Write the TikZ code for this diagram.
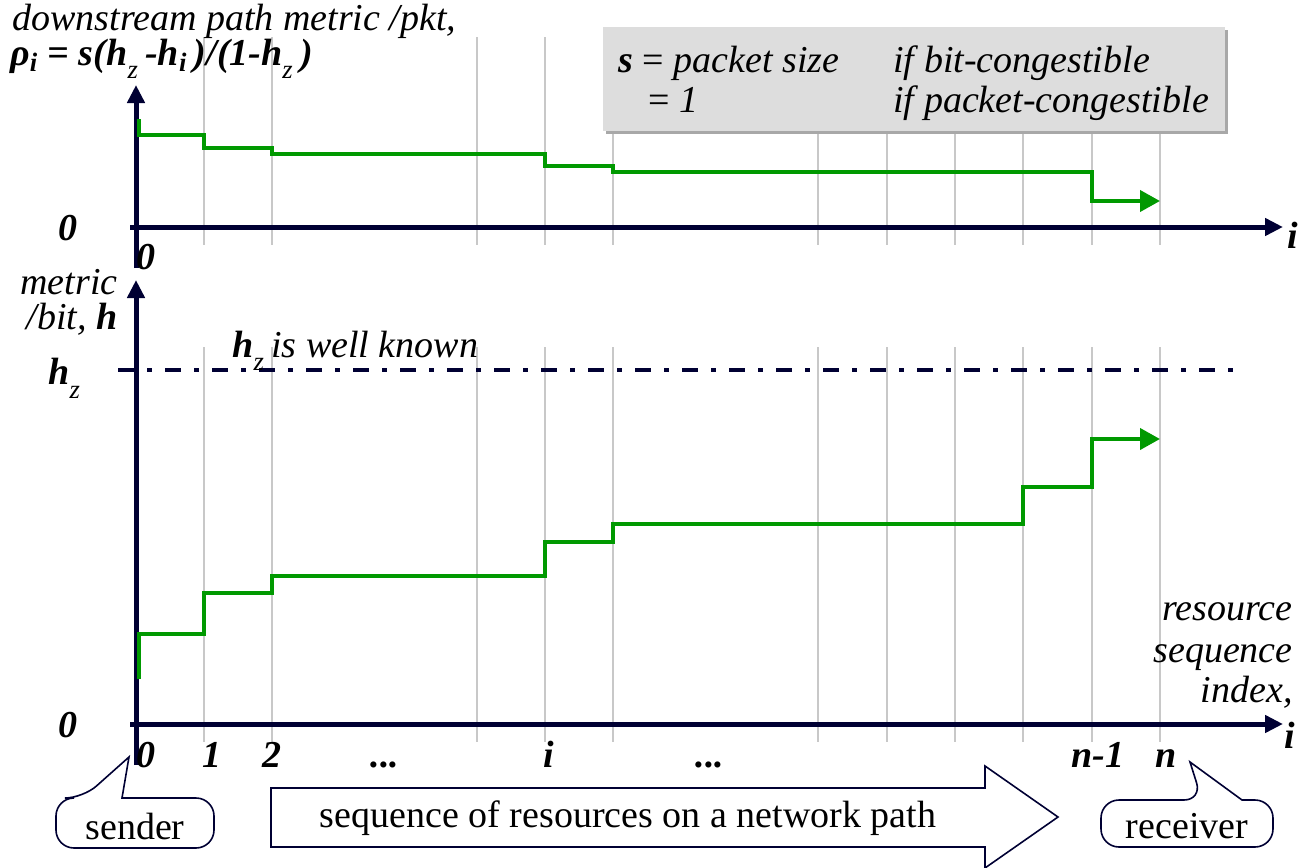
\documentclass[tikz,border=0pt]{standalone}
\usepackage{fontspec}
\setmainfont{Liberation Serif}
\usetikzlibrary{arrows.meta}

\definecolor{axisblue}{HTML}{000033}
\definecolor{stepgreen}{HTML}{009900}
\definecolor{gridgray}{HTML}{C8C8C8}
\definecolor{boxgray}{HTML}{DDDDDD}
\definecolor{shadowgray}{HTML}{A8A8A8}

\newcommand\lowsub[1]{\raisebox{-0.5ex}{\textsubscript{\mdseries#1}}\,}

\tikzset{
  axis/.style={line width=2.5pt, axisblue, -{Triangle[length=9pt,width=8.5pt]}},
  metric/.style={line width=2pt, stepgreen, -{Triangle[length=10pt,width=10.5pt]}},
  tickline/.style={gridgray, line width=0.7pt},
  lbl/.style={font=\fontsize{19}{22}\selectfont\itshape, inner sep=0pt},
  blbl/.style={font=\fontsize{19}{22}\selectfont\bfseries\itshape, inner sep=0pt},
  plain/.style={font=\fontsize{19}{22}\selectfont, inner sep=0pt},
  bubble/.style={draw=axisblue, line width=0.8pt, fill=white},
}

\begin{document}
\begin{tikzpicture}[x=0.5pt, y=-0.5pt]
\useasboundingbox (0,0) rectangle (1308,868);

% grid lines for the resources
\foreach \gx in {204,272,477,545,613,818,887,955,1023,1092,1160} {
  \draw[tickline] (\gx,37) -- (\gx,245);
  \draw[tickline] (\gx,347) -- (\gx,742);
}

% legend box
\fill[shadowgray] (606,30) rectangle (1228,134);
\fill[boxgray] (603,27) rectangle (1225,131);
\node[lbl, anchor=base west] (srow) at (618,72) {\textbf{s} \textup{=} packet size};
\node[lbl, anchor=base west] (sbit) at (893,72) {if bit-congestible};
\node[lbl, anchor=base west] (onerow) at (648,112) {\textup{=} 1};
\node[lbl, anchor=base west] (onepkt) at (893,112) {if packet-congestible};

% upper plot
\draw[axis] (136,268) -- (136,85);
\draw[axis] (130,227) -- (1283,227);
\draw[metric] (139,119) -- (139,135) -- (204,135) -- (204,148) -- (272,148)
  -- (272,154) -- (545,154) -- (545,166) -- (613,166) -- (613,172)
  -- (1092,172) -- (1092,201) -- (1160,201);
\node[lbl, anchor=base west] (rholab) at (12,30) {downstream path metric /pkt,};
\node[blbl, anchor=base west] (rhoeq) at (10,65)
  {ρ\textsubscript{i} = s(h\lowsub{z}-h\textsubscript{i}\,)/(1-h\lowsub{z})};
\node[blbl] (zerotop) at (68,228) {0};
\node[blbl] (zeroax) at (146,257) {0};
\node[blbl] (itop) at (1293,235) {i};

% lower plot
\draw[axis] (136,765) -- (136,280);
\draw[axis] (130,724) -- (1283,724);
\draw[axisblue, line width=2.4pt, dash pattern=on 8pt off 6.5pt on 2.5pt off 6.5pt]
  (118,370) -- (1240,370);
\draw[metric] (139,679) -- (139,634) -- (204,634) -- (204,593) -- (272,593)
  -- (272,576) -- (545,576) -- (545,542) -- (613,542) -- (613,524)
  -- (1023,524) -- (1023,487) -- (1092,487) -- (1092,439) -- (1160,439);
\node[lbl, anchor=base east] (hlab) at (118,294) {metric};
\node[lbl, anchor=base east] (hlab2) at (118,329) {/bit, \textbf{h}};
\node[blbl] (hzlab) at (68,378) {h\lowsub{z}};
\node[lbl, anchor=base west] (hznote) at (232,357) {\textbf{h}\lowsub{z}is well known};
\node[blbl] (zerobot) at (68,725) {0};
\node[blbl] (ibot) at (1290,735) {i};
\node[lbl, anchor=base east] (idx1) at (1293,620) {resource};
\node[lbl, anchor=base east] (idx2) at (1293,662) {sequence};
\node[lbl, anchor=base east] (idx3) at (1293,702) {index,};
\foreach \gx/\txt in {146/0,212/1,272/2,549/i,1098/n-1,1166/n}
  \node[blbl, anchor=base] (xl\gx) at (\gx,767) {\txt};
\node[blbl, anchor=base] (xldotsa) at (385,767) {...};
\node[blbl, anchor=base] (xldotsb) at (710,767) {...};

% sender and receiver bubbles
\draw[bubble] (129,757) -- (122,798) [rounded corners=9pt] -- (214,798) -- (214,848)
  -- (56,848) -- (56,798) -- (83,798) [sharp corners] -- cycle;
\node[plain] (sender) at (135,826) {sender};
\draw[bubble] (1190,762) -- (1242,800) [rounded corners=9pt] -- (1273,800) -- (1273,847)
  -- (1101,847) -- (1101,800) -- (1202,800) [sharp corners] -- cycle;
\node[plain] (receiver) at (1187,826) {receiver};

% path arrow
\draw[bubble] (271,788) -- (985,788) -- (985,766) -- (1058,817) -- (985,868)
  -- (985,847) -- (271,847) -- cycle;
\node[plain] (pathtxt) at (628,818) {sequence of resources on a network path};
\end{tikzpicture}
\end{document}
